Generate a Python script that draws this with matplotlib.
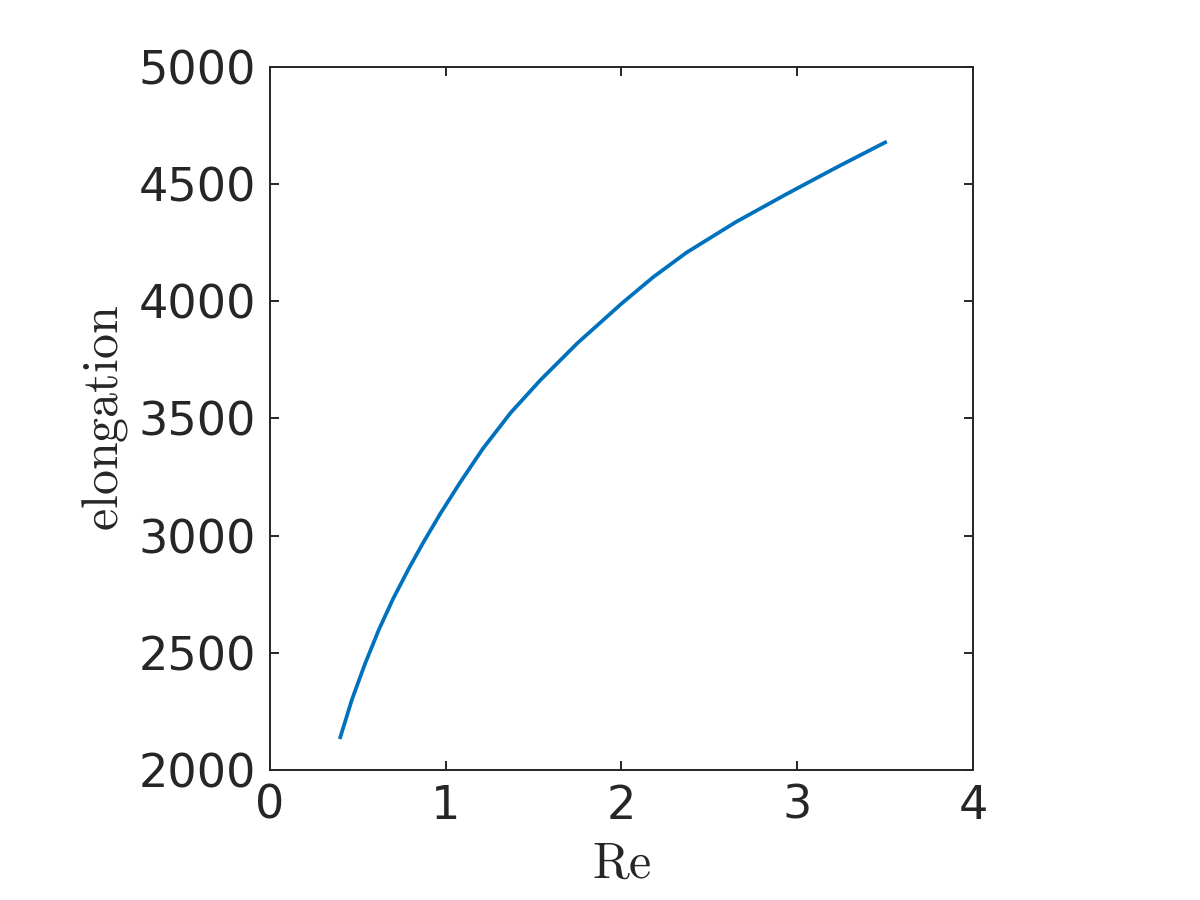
import matplotlib
matplotlib.use('Agg')
import matplotlib.pyplot as plt

# values
re_vals = [0.40, 0.465, 0.54, 0.62, 0.70, 0.79, 0.87, 0.97, 1.08, 1.21,
           1.37, 1.54, 1.75, 2.00, 2.18, 2.37, 2.65, 2.94, 3.22, 3.50]
elongation = [2140, 2298, 2452, 2600, 2730, 2860, 2968, 3095, 3225, 3370,
              3525, 3665, 3822, 3990, 4103, 4208, 4338, 4458, 4570, 4678]

x_ticks = [0, 1, 2, 3, 4]
y_ticks = [2000, 2500, 3000, 3500, 4000, 4500, 5000]

txt = (0.15, 0.15, 0.15)
plt.rcParams['mathtext.fontset'] = 'cm'
plt.rcParams['font.family'] = 'DejaVu Sans'

fig = plt.figure(figsize=(6, 4.5), dpi=200)
ax = fig.add_axes([0.225, 0.1444, 0.5858, 0.7812])

ax.plot(re_vals, elongation, color='#0072BD', linewidth=1.35)

ax.set_xlim(0, 4)
ax.set_ylim(2000, 5000)
ax.set_xticks(x_ticks)
ax.set_yticks(y_ticks)
ax.tick_params(direction='in', top=True, right=True, length=3.2, width=0.7,
               labelsize=16.6, colors=txt, pad=5)
for s in ax.spines.values():
    s.set_linewidth(0.7)
    s.set_color(txt)

ax.set_xlabel(r'$\mathrm{Re}$', fontsize=18, color=txt, labelpad=4)
ax.set_ylabel(r'$\mathrm{elongation}$', fontsize=18, color=txt, labelpad=3)

fig.savefig('out.png', dpi=200, facecolor='white')
